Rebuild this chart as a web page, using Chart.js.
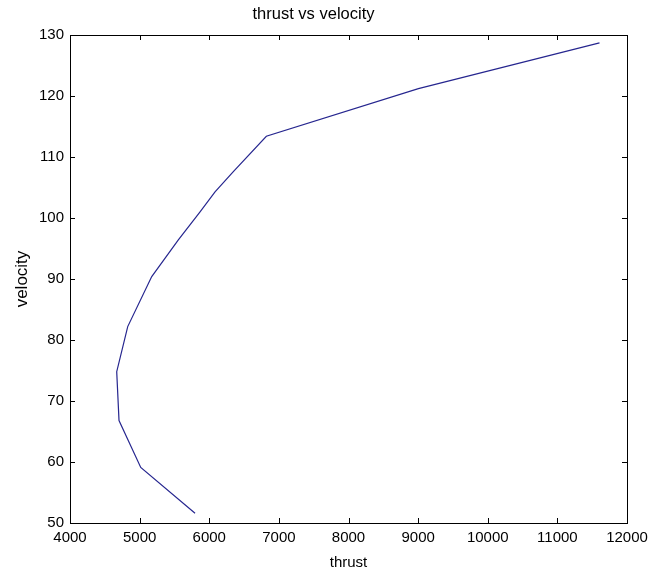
<!DOCTYPE html>
<html>
<head>
<meta charset="utf-8">
<script src="https://cdn.jsdelivr.net/npm/chart.js@4"></script>
<style>
html,body{margin:0;padding:0;background:#fff;}
#wrap{width:662px;height:573px;}
</style>
</head>
<body>
<div id="wrap"><canvas id="c" width="662" height="573"></canvas></div>
<script>
const chartTitle = "thrust vs velocity";
const xAxisLabel = "thrust";
const yAxisLabel = "velocity";
const thrust =   [5796, 5016, 4704, 4671, 4829, 5174, 5556, 5868, 6083, 6346, 6820, 9004, 11605];
const velocity = [51.6, 59.1, 66.8, 74.8, 82.2, 90.4, 96.4, 101.0, 104.3, 107.6, 113.4, 121.2, 128.7];
const xTicks = [4000, 5000, 6000, 7000, 8000, 9000, 10000, 11000, 12000];
const yTicks = [50, 60, 70, 80, 90, 100, 110, 120, 130];

const FONT = "'Liberation Sans', Arial, sans-serif";
const points = thrust.map((t, i) => ({x: t, y: velocity[i]}));

const boxPlugin = {
  id: 'box',
  afterDraw(chart) {
    const {ctx, chartArea: a, scales} = chart;
    ctx.save();
    ctx.strokeStyle = '#000';
    ctx.lineWidth = 1;
    ctx.strokeRect(Math.round(a.left) + 0.5, Math.round(a.top) + 0.5,
                   Math.round(a.right - a.left), Math.round(a.bottom - a.top));
    const L = 5;
    ctx.beginPath();
    xTicks.forEach(v => {
      const px = Math.round(scales.x.getPixelForValue(v)) + 0.5;
      ctx.moveTo(px, a.bottom); ctx.lineTo(px, a.bottom - L);
      ctx.moveTo(px, a.top); ctx.lineTo(px, a.top + L);
    });
    yTicks.forEach(v => {
      const py = Math.round(scales.y.getPixelForValue(v)) + 0.5;
      ctx.moveTo(a.left, py); ctx.lineTo(a.left + L, py);
      ctx.moveTo(a.right, py); ctx.lineTo(a.right - L, py);
    });
    ctx.stroke();
    ctx.restore();
  }
};

new Chart(document.getElementById('c'), {
  type: 'scatter',
  data: {
    datasets: [{
      data: points,
      showLine: true,
      borderColor: '#26268f',
      borderWidth: 1.2,
      pointRadius: 0,
      tension: 0,
      fill: false
    }]
  },
  options: {
    responsive: false,
    animation: false,
    devicePixelRatio: 1,
    layout: {padding: {left: 0, right: 35, top: 0, bottom: 0}},
    plugins: {
      legend: {display: false},
      tooltip: {enabled: false},
      title: {
        display: true,
        text: chartTitle,
        color: '#000',
        font: {family: FONT, size: 16.5, weight: 'normal'},
        padding: {top: 5, bottom: 10.2}
      }
    },
    scales: {
      x: {
        type: 'linear',
        min: 4000, max: 12000,
        afterBuildTicks(s) { s.ticks = xTicks.map(v => ({value: v})); },
        afterFit(s) { s.height = 50; },
        grid: {display: false, drawTicks: false},
        border: {display: false},
        ticks: {
          color: '#000',
          font: {family: FONT, size: 15},
          padding: 6,
          maxRotation: 0,
          autoSkip: false,
          callback: v => String(v)
        },
        title: {
          display: true, text: xAxisLabel, color: '#000',
          font: {family: FONT, size: 15},
          padding: {top: 0, bottom: 1}
        }
      },
      y: {
        type: 'linear',
        min: 50, max: 130,
        afterBuildTicks(s) { s.ticks = yTicks.map(v => ({value: v})); },
        afterFit(s) { s.width = 70; },
        grid: {display: false, drawTicks: false},
        border: {display: false},
        ticks: {
          color: '#000',
          font: {family: FONT, size: 15},
          padding: 6,
          autoSkip: false,
          callback: v => String(v)
        },
        title: {
          display: true, text: yAxisLabel, color: '#000',
          font: {family: FONT, size: 17},
          padding: {top: 12, bottom: 0}
        }
      }
    }
  },
  plugins: [boxPlugin]
});
</script>
</body>
</html>
